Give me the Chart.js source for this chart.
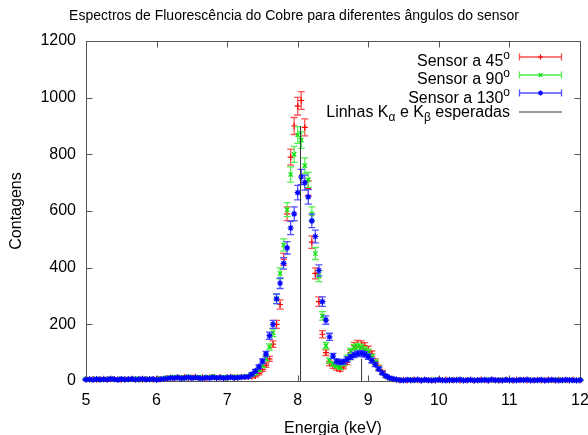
<!DOCTYPE html>
<html>
<head>
<meta charset="UTF-8" />
<title>Espectros de Fluorescência do Cobre</title>
<script src="https://cdn.jsdelivr.net/npm/chart.js"></script>
<style>
  html, body { margin: 0; padding: 0; background: #fff; }
  #grafico { display: block; }
</style>
</head>
<body>
<canvas id="grafico" width="588" height="435"></canvas>
<script>
// energia de cada canal (keV)
const energia = [
  5, 5.05, 5.1, 5.15, 5.2, 5.25, 5.3, 5.35, 5.4, 5.45,
  5.5, 5.55, 5.6, 5.65, 5.7, 5.75, 5.8, 5.85, 5.9, 5.95,
  6, 6.05, 6.1, 6.15, 6.2, 6.25, 6.3, 6.35, 6.4, 6.45,
  6.5, 6.55, 6.6, 6.65, 6.7, 6.75, 6.8, 6.85, 6.9, 6.95,
  7, 7.05, 7.1, 7.15, 7.2, 7.25, 7.3, 7.35, 7.4, 7.45,
  7.5, 7.55, 7.6, 7.65, 7.7, 7.75, 7.8, 7.85, 7.9, 7.95,
  8, 8.05, 8.1, 8.15, 8.2, 8.25, 8.3, 8.35, 8.4, 8.45,
  8.5, 8.55, 8.6, 8.65, 8.7, 8.75, 8.8, 8.85, 8.9, 8.95,
  9, 9.05, 9.1, 9.15, 9.2, 9.25, 9.3, 9.35, 9.4, 9.45,
  9.5, 9.55, 9.6, 9.65, 9.7, 9.75, 9.8, 9.85, 9.9, 9.95,
  10, 10.05, 10.1, 10.15, 10.2, 10.25, 10.3, 10.35, 10.4, 10.45,
  10.5, 10.55, 10.6, 10.65, 10.7, 10.75, 10.8, 10.85, 10.9, 10.95,
  11, 11.05, 11.1, 11.15, 11.2, 11.25, 11.3, 11.35, 11.4, 11.45,
  11.5, 11.55, 11.6, 11.65, 11.7, 11.75, 11.8, 11.85, 11.9, 11.95,
  12
];

// contagens por canal
const contagens45 = [
  6, 5, 7, 4, 6, 8, 5, 6, 7, 5, 4, 6, 7, 8, 5, 6, 4, 7, 6, 5, 8, 6, 7,
  10, 12, 9, 13, 11, 14, 10, 12, 15, 11, 13, 9, 12, 14, 10, 13, 11, 12, 15, 13, 12, 14,
  14, 14, 15, 18, 27, 40, 56, 78, 130, 200,
  270, 430, 590, 790, 900, 970, 990, 895, 680, 490,
  380, 280, 165, 100, 62, 52, 45, 40, 50, 66,
  100, 125, 132, 130, 124, 112, 96, 70, 48, 32,
  17, 9, 6, 4,
  3, 4, 2, 3, 5, 3, 2, 4, 3, 3, 2, 4, 3, 5, 2, 3, 4, 2, 3, 3,
  4, 2, 3, 5, 3, 2, 4, 3, 2, 3, 4, 3, 2, 5, 3, 4, 2, 3, 3, 4,
  2, 3, 5, 3, 2, 4, 3, 3, 2, 4, 3, 3
];
const contagens90 = [
  7, 5, 6, 8, 4, 6, 7, 9, 5, 6, 8, 5, 7, 6, 9, 4, 6, 8, 7, 5, 6, 9, 7,
  12, 10, 14, 11, 13, 9, 15, 12, 11, 14, 10, 13, 12, 16, 11, 12, 14, 10, 13, 15, 12, 14,
  15, 17, 22, 28, 40, 55, 80, 120, 170, 290,
  380, 480, 605, 729, 800, 868, 850, 760, 710, 590,
  450, 370, 230, 125, 72, 60, 54, 48, 62, 82,
  106, 118, 122, 118, 110, 102, 85, 66, 45, 28,
  16, 10, 7, 5,
  4, 3, 3, 5, 2, 4, 3, 3, 4, 2, 5, 3, 4, 3, 2, 4, 3, 5, 2, 3,
  4, 3, 3, 2, 4, 5, 3, 2, 3, 4, 3, 4, 2, 3, 5, 3, 3, 4, 2, 3,
  4, 3, 2, 4, 3, 5, 2, 3, 4, 3, 2, 4
];
const contagens130 = [
  5, 6, 4, 7, 5, 6, 5, 8, 6, 4, 7, 5, 6, 7, 5, 6, 8, 5, 6, 7, 4, 6, 8,
  9, 11, 10, 12, 9, 11, 13, 10, 12, 11, 9, 12, 10, 13, 11, 12, 10, 12, 13, 11, 12, 13,
  14, 15, 24, 35, 50, 70, 95, 160, 200, 290,
  345, 415, 470, 540, 590, 665, 720, 700, 650, 565,
  510, 390, 280, 215, 156, 88, 70, 66, 68, 76,
  85, 92, 96, 98, 94, 86, 72, 58, 42, 28,
  18, 11, 8, 5,
  3, 2, 4, 3, 3, 5, 2, 4, 3, 2, 3, 4, 3, 2, 4, 3, 3, 5, 2, 3,
  4, 2, 3, 3, 4, 2, 5, 3, 3, 2, 4, 3, 3, 2, 4, 3, 5, 2, 3, 3,
  4, 2, 3, 4, 3, 2, 3, 4, 3, 3, 2, 3
];

// linhas esperadas: [energia, altura]
const linhaKalfa = [8.04, 900];
const linhaKbeta = [8.905, 78];

const ticksX = [5, 6, 7, 8, 9, 10, 11, 12];
const ticksY = [0, 200, 400, 600, 800, 1000, 1200];

const FONTE = '"Liberation Sans", Arial, sans-serif';

const pontos = (ys) => energia.map((e, i) => ({ x: e, y: ys[i] }));

// barras de erro (poisson, sqrt(N)) desenhadas antes de cada serie
const barrasErro = {
  id: "barrasErro",
  beforeDatasetDraw(chart, args) {
    const ds = chart.data.datasets[args.index];
    if (!ds.corBarra) return;
    const { ctx, scales } = chart;
    ctx.save();
    ctx.strokeStyle = ds.corBarra;
    ctx.lineWidth = 1.3;
    ctx.beginPath();
    ds.data.forEach((p) => {
      const err = Math.sqrt(p.y);
      const px = scales.x.getPixelForValue(p.x);
      const y1 = scales.y.getPixelForValue(p.y - err);
      const y2 = scales.y.getPixelForValue(p.y + err);
      ctx.moveTo(px, y1);
      ctx.lineTo(px, y2);
      ctx.moveTo(px - 3.5, y1);
      ctx.lineTo(px + 3.5, y1);
      ctx.moveTo(px - 3.5, y2);
      ctx.lineTo(px + 3.5, y2);
    });
    ctx.stroke();
    ctx.restore();
  },
};

// moldura com ticks para dentro nos quatro lados
const moldura = {
  id: "moldura",
  beforeDatasetsDraw(chart) {
    const { ctx, chartArea: a, scales } = chart;
    const L = Math.round(a.left) + 0.5, R = Math.round(a.right) + 0.5;
    const T = Math.round(a.top) + 0.5, B = Math.round(a.bottom) + 0.5;
    ctx.save();
    ctx.strokeStyle = "#555";
    ctx.lineWidth = 1;
    ctx.beginPath();
    ctx.rect(L, T, R - L, B - T);
    ticksX.forEach((v) => {
      const px = Math.round(scales.x.getPixelForValue(v)) + 0.5;
      ctx.moveTo(px, B); ctx.lineTo(px, B - 6);
      ctx.moveTo(px, T); ctx.lineTo(px, T + 6);
    });
    ticksY.forEach((v) => {
      const py = Math.round(scales.y.getPixelForValue(v)) + 0.5;
      ctx.moveTo(L, py); ctx.lineTo(L + 6, py);
      ctx.moveTo(R, py); ctx.lineTo(R - 6, py);
    });
    ctx.stroke();
    ctx.restore();
  },
};

// texto com sub/sobrescritos, alinhado a direita
function textoRico(ctx, partes, xDir, yBase) {
  const fonte = (s) => (s === 0 ? "16px " : "12px ") + FONTE;
  let largura = 0;
  partes.forEach(([t, s]) => { ctx.font = fonte(s); largura += ctx.measureText(t).width; });
  let x = xDir - largura;
  partes.forEach(([t, s]) => {
    ctx.font = fonte(s);
    const dy = s > 0 ? -7 : s < 0 ? 4 : 0;
    ctx.fillText(t, x, yBase + dy);
    x += ctx.measureText(t).width;
  });
}

function marcador(ctx, estilo, x, y, r) {
  ctx.beginPath();
  if (estilo === "cross" || estilo === "star") {
    ctx.moveTo(x - r, y); ctx.lineTo(x + r, y);
    ctx.moveTo(x, y - r); ctx.lineTo(x, y + r);
  }
  if (estilo === "crossRot" || estilo === "star") {
    const d = r * 0.72;
    ctx.moveTo(x - d, y - d); ctx.lineTo(x + d, y + d);
    ctx.moveTo(x - d, y + d); ctx.lineTo(x + d, y - d);
  }
  ctx.stroke();
}

const textos = {
  id: "textos",
  afterDraw(chart) {
    const { ctx, chartArea: a } = chart;
    ctx.save();
    ctx.fillStyle = "#000";
    ctx.textBaseline = "alphabetic";

    ctx.font = "14px " + FONTE;
    ctx.textAlign = "center";
    ctx.fillText("Espectros de Fluorescência do Cobre para diferentes ângulos do sensor", 294, 19.5);
    ctx.font = "16px " + FONTE;
    ctx.fillText("Energia (keV)", (a.left + a.right) / 2, 433);

    ctx.save();
    ctx.translate(21, (a.top + a.bottom) / 2);
    ctx.rotate(-Math.PI / 2);
    ctx.fillText("Contagens", 0, 0);
    ctx.restore();

    // legenda
    ctx.textAlign = "left";
    const linhas = [
      { partes: [["Sensor a 45", 0], ["o", 1]], cor: "#ff5050", mk: "#ff0000", estilo: "cross", y: 57, base: 66 },
      { partes: [["Sensor a 90", 0], ["o", 1]], cor: "#50f050", mk: "#00e000", estilo: "crossRot", y: 75, base: 84 },
      { partes: [["Sensor a 130", 0], ["o", 1]], cor: "#5050ff", mk: "#0000ff", estilo: "star", y: 93, base: 102.5 },
      { partes: [["Linhas K", 0], ["α", -1], [" e K", 0], ["β", -1], [" esperadas", 0]], cor: "#777", y: 112, base: 117 },
    ];
    linhas.forEach((l) => {
      ctx.fillStyle = "#000";
      textoRico(ctx, l.partes, 510, l.base);
      ctx.strokeStyle = l.cor;
      ctx.lineWidth = 1.3;
      ctx.beginPath();
      ctx.moveTo(519, l.y);
      ctx.lineTo(562, l.y);
      if (l.estilo) {
        ctx.moveTo(519.5, l.y - 3.5); ctx.lineTo(519.5, l.y + 3.5);
        ctx.moveTo(561.5, l.y - 3.5); ctx.lineTo(561.5, l.y + 3.5);
      }
      ctx.stroke();
      if (l.estilo) {
        ctx.strokeStyle = l.mk;
        ctx.lineWidth = 1.2;
        marcador(ctx, l.estilo, 540.5, l.y, 2.5);
      }
    });
    ctx.restore();
  },
};

const serie = (rotulo, ys, cor, corBarra, estilo, ordem) => ({
  label: rotulo,
  data: pontos(ys),
  corBarra: corBarra,
  pointStyle: estilo,
  pointRadius: 3,
  pointHoverRadius: 3,
  pointBorderWidth: 1.2,
  borderColor: cor,
  backgroundColor: cor,
  showLine: false,
  clip: false,
  order: ordem,
});

const dadosLinhas = [
  { x: linhaKalfa[0], y: 0 },
  { x: linhaKalfa[0], y: linhaKalfa[1] },
  { x: (linhaKalfa[0] + linhaKbeta[0]) / 2, y: null },
  { x: linhaKbeta[0], y: 0 },
  { x: linhaKbeta[0], y: linhaKbeta[1] },
];

new Chart(document.getElementById("grafico"), {
  type: "scatter",
  data: {
    datasets: [
      serie("Sensor a 45º", contagens45, "#ff0000", "#ff5050", "cross", 4),
      serie("Sensor a 90º", contagens90, "#00e000", "#50f050", "crossRot", 3),
      serie("Sensor a 130º", contagens130, "#0000ff", "#5050ff", "star", 2),
      {
        type: "line",
        label: "Linhas Kα e Kβ esperadas",
        data: dadosLinhas,
        borderColor: "#333",
        borderWidth: 1,
        pointRadius: 0,
        spanGaps: false,
        order: 1,
      },
    ],
  },
  options: {
    responsive: false,
    animation: false,
    events: [],
    layout: { autoPadding: false, padding: { top: 41, right: 8, left: 0, bottom: 0 } },
    plugins: { legend: { display: false }, tooltip: { enabled: false }, title: { display: false } },
    scales: {
      x: {
        type: "linear",
        min: 5,
        max: 12,
        grid: { display: false, drawTicks: false },
        border: { display: false },
        ticks: { stepSize: 1, color: "#000", font: { size: 16, family: FONTE }, padding: 10, maxRotation: 0 },
        afterFit: (s) => { s.height = 54; s.paddingLeft = 0; s.paddingRight = 0; },
      },
      y: {
        min: 0,
        max: 1200,
        grid: { display: false, drawTicks: false },
        border: { display: false },
        ticks: { stepSize: 200, color: "#000", font: { size: 16, family: FONTE }, padding: 10, callback: (v) => String(v) },
        afterFit: (s) => { s.width = 86; s.paddingTop = 0; s.paddingBottom = 0; },
      },
    },
  },
  plugins: [barrasErro, moldura, textos],
});
</script>
</body>
</html>
